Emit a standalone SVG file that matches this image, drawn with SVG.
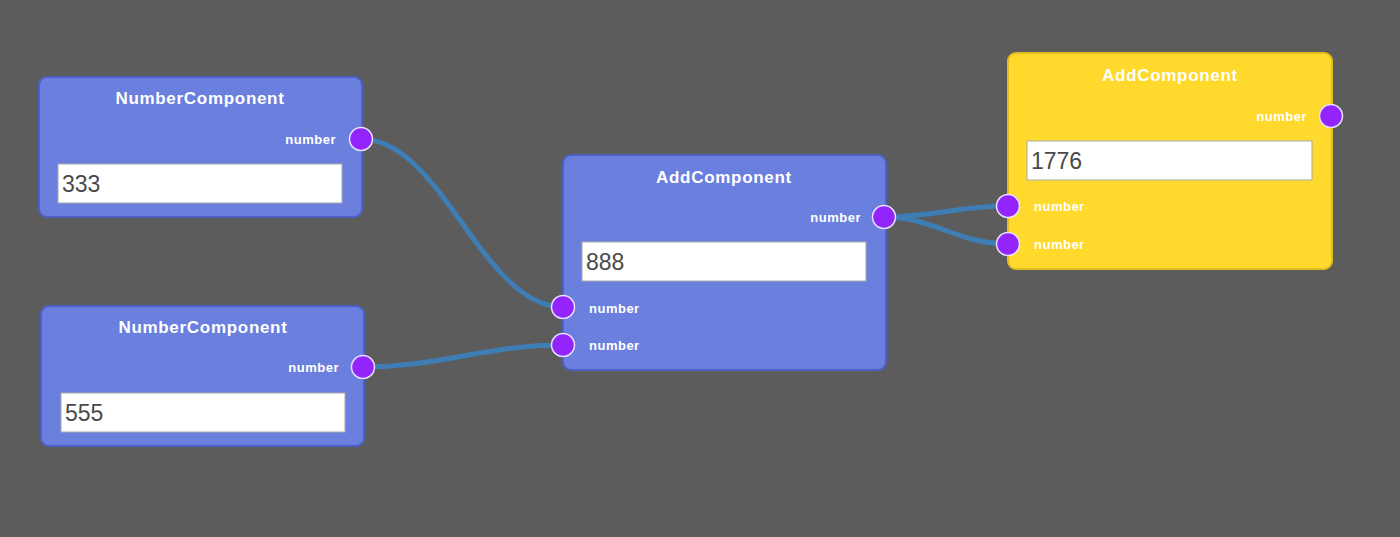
<svg xmlns="http://www.w3.org/2000/svg" width="1400" height="537" viewBox="0 0 1400 537">
<style>
.node{fill:#6b7fde;stroke:#4f5fc8;stroke-width:2}
.node.sel{fill:#ffd92c;stroke:#e3bd1e}
.title{font-family:"Liberation Sans",Arial,sans-serif;font-weight:bold;font-size:17px;letter-spacing:0.7px;fill:#fff;text-anchor:middle}
.lbl{font-family:"Liberation Sans",Arial,sans-serif;font-weight:bold;font-size:13px;letter-spacing:0.5px;fill:#fff}
.r{text-anchor:end}
.box{fill:#fff;stroke:#a9a9a9;stroke-width:1}
.val{font-family:"Liberation Sans",Arial,sans-serif;font-size:23px;fill:#4a4a4a}
.sock{fill:#9324fc;stroke:#e8e0ff;stroke-width:1.5}
.conn{fill:none;stroke:#3f7db5;stroke-width:5}
</style>
<rect width="1400" height="537" fill="#5c5c5c"/>
<g id="connectors">
<path class="conn" d="M361 139 C442 139 482 307 563 307"/>
<path class="conn" d="M363 367 C443 367 483 345 563 345"/>
<path class="conn" d="M884 217 C934 217 958 206 1008 206"/>
<path class="conn" d="M884 217 C934 217 958 244 1008 244"/>
</g>
<g id="node-number-1">
<rect class="node" x="39" y="77" width="323" height="140" rx="8"/>
<text class="title" x="200" y="104">NumberComponent</text>
<text class="lbl r" x="336" y="144">number</text>
<rect class="box" x="58" y="164" width="284" height="39"/>
<text class="val" x="62" y="192">333</text>
<circle class="sock" cx="361" cy="139" r="11.5"/>
</g>
<g id="node-number-2">
<rect class="node" x="41" y="306" width="323" height="140" rx="8"/>
<text class="title" x="203" y="333">NumberComponent</text>
<text class="lbl r" x="339" y="372">number</text>
<rect class="box" x="61" y="393" width="284" height="39"/>
<text class="val" x="65" y="421">555</text>
<circle class="sock" cx="363" cy="367" r="11.5"/>
</g>
<g id="node-add-1">
<rect class="node" x="563" y="155" width="323" height="215" rx="8"/>
<text class="title" x="724" y="183">AddComponent</text>
<text class="lbl r" x="861" y="222">number</text>
<rect class="box" x="582" y="242" width="284" height="39"/>
<text class="val" x="586" y="270">888</text>
<text class="lbl" x="589" y="313">number</text>
<text class="lbl" x="589" y="350">number</text>
<circle class="sock" cx="884" cy="217" r="11.5"/>
<circle class="sock" cx="563" cy="307" r="11.5"/>
<circle class="sock" cx="563" cy="345" r="11.5"/>
</g>
<g id="node-add-2">
<rect class="node sel" x="1008" y="53" width="324" height="216" rx="8"/>
<text class="title" x="1170" y="81">AddComponent</text>
<text class="lbl r" x="1307" y="121">number</text>
<rect class="box" x="1027" y="141" width="285" height="39"/>
<text class="val" x="1031" y="169">1776</text>
<text class="lbl" x="1034" y="211">number</text>
<text class="lbl" x="1034" y="249">number</text>
<circle class="sock" cx="1331" cy="116" r="11.5"/>
<circle class="sock" cx="1008" cy="206" r="11.5"/>
<circle class="sock" cx="1008" cy="244" r="11.5"/>
</g>
</svg>
